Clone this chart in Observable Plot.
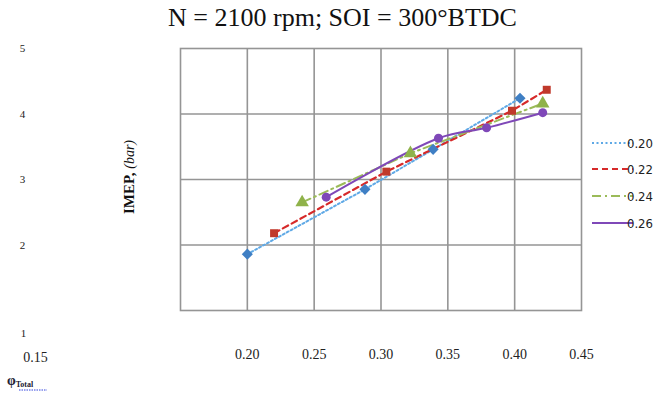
<!DOCTYPE html>
<html>
<head>
<meta charset="utf-8">
<script src="https://cdn.jsdelivr.net/npm/d3@7"></script>
<script src="https://cdn.jsdelivr.net/npm/@observablehq/plot@0.6"></script>
<style>
  html, body { margin: 0; padding: 0; background: #fff; }
  #title { height: 36px; line-height: 36px; font-family: "Liberation Serif", "Times New Roman", serif; font-size: 26px; color: #111; text-align: center; width: 669px; padding-left: 16px; box-sizing: border-box; }
  #chart svg { display: block; }
</style>
</head>
<body>
<div id="title">N = 2100 rpm; SOI = 300°BTDC</div>
<div id="chart"></div>
<script>
const seriesNames = ["0.20", "0.22", "0.24", "0.26"];
const phi020X = [0.200, 0.288, 0.339, 0.404];
const phi020Y = [1.86, 2.85, 3.46, 4.24];
const phi022X = [0.220, 0.304, 0.398, 0.424];
const phi022Y = [2.18, 3.12, 4.05, 4.37];
const phi024X = [0.241, 0.322, 0.421];
const phi024Y = [2.65, 3.40, 4.16];
const phi026X = [0.259, 0.343, 0.379, 0.421];
const phi026Y = [2.73, 3.63, 3.79, 4.02];
const xTicks = [0.20, 0.25, 0.30, 0.35, 0.40, 0.45];
const yTicks = [5, 4, 3, 2];
const xGrid = [0.20, 0.25, 0.30, 0.35, 0.40];
const yGrid = [2, 3, 4];

const toRows = (xs, ys) => xs.map((x, i) => ({x, y: ys[i]}));
const d020 = toRows(phi020X, phi020Y);
const d022 = toRows(phi022X, phi022Y);
const d024 = toRows(phi024X, phi024Y);
const d026 = toRows(phi026X, phi026Y);

const styles = [
  {line: "#5fa9e6", mark: "#3f7fc4", dash: "2,2.5", symbol: "diamond2", curve: "linear", width: 2, r: 5},
  {line: "#d62a2a", mark: "#c0392b", dash: "6,4", symbol: "square", curve: "linear", width: 2.2, r: 4.5},
  {line: "#9bbb59", mark: "#8fb24a", dash: "9,4,2,4", symbol: "triangle", curve: "linear", width: 2, r: 5},
  {line: "#7f48b8", mark: "#7f48b8", dash: null, symbol: "circle", curve: "catmull-rom", width: 2, r: 4.5}
];
const datasets = [d020, d022, d024, d026];

const tickFont = "'Liberation Serif', 'Times New Roman', serif";
const legendFont = "'DejaVu Sans Condensed', 'Liberation Sans Narrow', 'Arial Narrow', sans-serif";
const serifFont = "'Liberation Serif', 'Times New Roman', serif";

const marks = [
  Plot.gridX(xGrid, {stroke: "#959595", strokeOpacity: 1, strokeWidth: 1.6}),
  Plot.gridY(yGrid, {stroke: "#959595", strokeOpacity: 1, strokeWidth: 1.6}),
  Plot.frame({stroke: "#959595", strokeWidth: 1.6}),
  Plot.text(xTicks, {x: d => d, text: d => d.toFixed(2), frameAnchor: "bottom", dy: 44, fontSize: 14, fontFamily: tickFont, fill: "#222", lineAnchor: "middle"}),
  Plot.text(["0.15"], {frameAnchor: "bottom-left", dx: -145, dy: 47, fontSize: 14, fontFamily: tickFont, fill: "#222", textAnchor: "middle", lineAnchor: "middle"}),
  Plot.text(yTicks, {y: d => d, text: d => String(d), frameAnchor: "left", dx: -158, fontSize: 11, fontFamily: serifFont, fill: "#222", textAnchor: "middle", lineAnchor: "middle"}),
  Plot.text(["1"], {frameAnchor: "bottom-left", dx: -157, dy: 23, fontSize: 11, fontFamily: serifFont, fill: "#222", textAnchor: "middle", lineAnchor: "middle"})
];
datasets.forEach((data, i) => {
  const s = styles[i];
  marks.push(Plot.line(data, {x: "x", y: "y", stroke: s.line, strokeWidth: s.width, strokeDasharray: s.dash, curve: s.curve}));
});
datasets.forEach((data, i) => {
  const s = styles[i];
  marks.push(Plot.dot(data, {x: "x", y: "y", symbol: s.symbol, fill: s.mark, stroke: "none", r: s.r}));
});

const plot = Plot.plot({
  width: 669,
  height: 360,
  marginLeft: 180,
  marginRight: 88,
  marginTop: 12,
  marginBottom: 86,
  x: {domain: [0.15, 0.45], axis: null},
  y: {domain: [1, 5], axis: null},
  style: {background: "#fff", overflow: "visible"},
  marks
});
document.getElementById("chart").appendChild(plot);

// Axis title, legend and φ label added as SVG text
const svg = d3.select(plot);
const yt = svg.append("text")
  .attr("transform", "translate(134,141) rotate(-90)")
  .attr("text-anchor", "middle")
  .attr("font-family", serifFont)
  .attr("font-size", 15)
  .attr("fill", "#111");
yt.append("tspan").attr("font-weight", "bold").text("IMEP, ");
yt.append("tspan").attr("font-style", "italic").attr("font-size", 14).text("(bar)");

const legY = [107, 133, 160, 187];
seriesNames.forEach((name, i) => {
  const s = styles[i];
  svg.append("line")
    .attr("x1", 592).attr("x2", 633).attr("y1", legY[i]).attr("y2", legY[i])
    .attr("stroke", s.line).attr("stroke-width", s.width)
    .attr("stroke-dasharray", s.dash);
  svg.append("text")
    .attr("x", 640).attr("y", legY[i]).attr("dy", "0.35em")
    .attr("font-family", legendFont).attr("font-size", 13).attr("fill", "#222")
    .text(name);
});

const phi = svg.append("text")
  .attr("x", 20).attr("y", 349)
  .attr("font-family", serifFont).attr("font-size", 14).attr("fill", "#223").attr("font-weight", "bold");
phi.append("tspan").text("φ");
phi.append("tspan").attr("font-size", 8).attr("dy", 2).text("Total");
svg.append("line").attr("x1", 19).attr("x2", 47).attr("y1", 354).attr("y2", 354)
  .attr("stroke", "#3344dd").attr("stroke-width", 1.2).attr("stroke-dasharray", "1.5,1");
</script>
</body>
</html>
